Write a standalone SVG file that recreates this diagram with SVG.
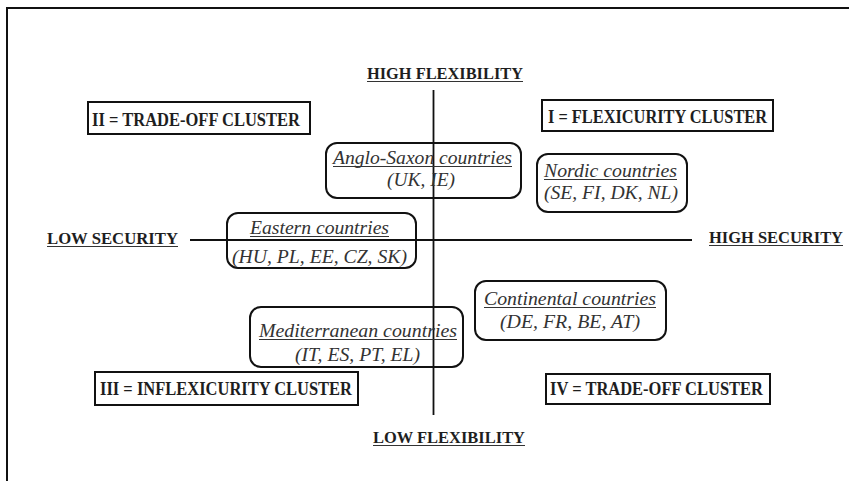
<svg xmlns="http://www.w3.org/2000/svg" width="849" height="481" viewBox="0 0 849 481">
<style>
.lbl{font-family:"Liberation Serif","Times New Roman",serif;font-weight:bold;font-size:17px;fill:#1e1e1e}
.cl{font-family:"Liberation Serif","Times New Roman",serif;font-weight:bold;font-size:18.5px;fill:#1e1e1e}
.it{font-family:"Liberation Serif","Times New Roman",serif;font-style:italic;font-size:19.5px;fill:#333}
.box{fill:none;stroke:#111;stroke-width:2}
.rbox{fill:none;stroke:#111;stroke-width:2}
.ul{stroke:#333;stroke-width:1.2}
.ax{stroke:#111;stroke-width:1.8}
</style>
<rect width="849" height="481" fill="#fff"/>
<path d="M7,481 V8 H849" fill="none" stroke="#111" stroke-width="2"/>
<g id="connectors">
<line class="ax" x1="433.5" y1="90" x2="433.5" y2="415"/>
<line class="ax" x1="190" y1="240" x2="692" y2="240"/>
</g>
<g id="high-flexibility"><text class="lbl" x="367" y="79" textLength="156" lengthAdjust="spacingAndGlyphs">HIGH FLEXIBILITY</text><line class="ul" x1="367" y1="81.5" x2="523" y2="81.5"/></g>
<g id="low-security"><text class="lbl" x="47" y="244" textLength="131" lengthAdjust="spacingAndGlyphs">LOW SECURITY</text><line class="ul" x1="47" y1="246.5" x2="178" y2="246.5"/></g>
<g id="high-security"><text class="lbl" x="709" y="243" textLength="134" lengthAdjust="spacingAndGlyphs">HIGH SECURITY</text><line class="ul" x1="709" y1="245.5" x2="843" y2="245.5"/></g>
<g id="low-flexibility"><text class="lbl" x="373" y="443" textLength="152" lengthAdjust="spacingAndGlyphs">LOW FLEXIBILITY</text><line class="ul" x1="373" y1="445.5" x2="525" y2="445.5"/></g>
<g id="cluster-2"><rect class="box" x="88" y="102" width="222" height="32"/><text class="cl" x="92" y="126" textLength="208" lengthAdjust="spacingAndGlyphs">II = TRADE-OFF CLUSTER</text></g>
<g id="cluster-1"><rect class="box" x="542" y="100" width="231" height="31"/><text class="cl" x="548" y="123" textLength="219" lengthAdjust="spacingAndGlyphs">I = FLEXICURITY CLUSTER</text></g>
<g id="cluster-3"><rect class="box" x="95" y="372" width="263" height="33"/><text class="cl" x="100" y="395" textLength="252" lengthAdjust="spacingAndGlyphs">III = INFLEXICURITY CLUSTER</text></g>
<g id="cluster-4"><rect class="box" x="546" y="374" width="224" height="30"/><text class="cl" x="550" y="395" textLength="213" lengthAdjust="spacingAndGlyphs">IV = TRADE-OFF CLUSTER</text></g>
<g id="anglo-saxon"><rect class="rbox" x="326" y="143" width="195" height="55" rx="11"/><text class="it" x="333" y="164" textLength="179" lengthAdjust="spacingAndGlyphs">Anglo-Saxon countries</text><line class="ul" x1="333" y1="166.5" x2="512" y2="166.5"/><text class="it" x="387" y="186" textLength="68" lengthAdjust="spacingAndGlyphs">(UK, IE)</text></g>
<g id="nordic"><rect class="rbox" x="537" y="154" width="150" height="58" rx="11"/><text class="it" x="544" y="177" textLength="133" lengthAdjust="spacingAndGlyphs">Nordic countries</text><line class="ul" x1="544" y1="179.5" x2="677" y2="179.5"/><text class="it" x="544" y="199" textLength="134" lengthAdjust="spacingAndGlyphs">(SE, FI, DK, NL)</text></g>
<g id="eastern"><rect class="rbox" x="227" y="213" width="189" height="55" rx="11"/><text class="it" x="250" y="234" textLength="139" lengthAdjust="spacingAndGlyphs">Eastern countries</text><line class="ul" x1="250" y1="236.5" x2="389" y2="236.5"/><text class="it" x="232" y="263" textLength="175" lengthAdjust="spacingAndGlyphs">(HU, PL, EE, CZ, SK)</text></g>
<g id="mediterranean"><rect class="rbox" x="250" y="307" width="213" height="60" rx="11"/><text class="it" x="259" y="337" textLength="198" lengthAdjust="spacingAndGlyphs">Mediterranean countries</text><line class="ul" x1="259" y1="339.5" x2="457" y2="339.5"/><text class="it" x="295" y="361" textLength="125" lengthAdjust="spacingAndGlyphs">(IT, ES, PT, EL)</text></g>
<g id="continental"><rect class="rbox" x="475" y="281" width="191" height="59" rx="11"/><text class="it" x="484" y="305" textLength="172" lengthAdjust="spacingAndGlyphs">Continental countries</text><line class="ul" x1="484" y1="307.5" x2="656" y2="307.5"/><text class="it" x="500" y="328" textLength="140" lengthAdjust="spacingAndGlyphs">(DE, FR, BE, AT)</text></g>
</svg>
